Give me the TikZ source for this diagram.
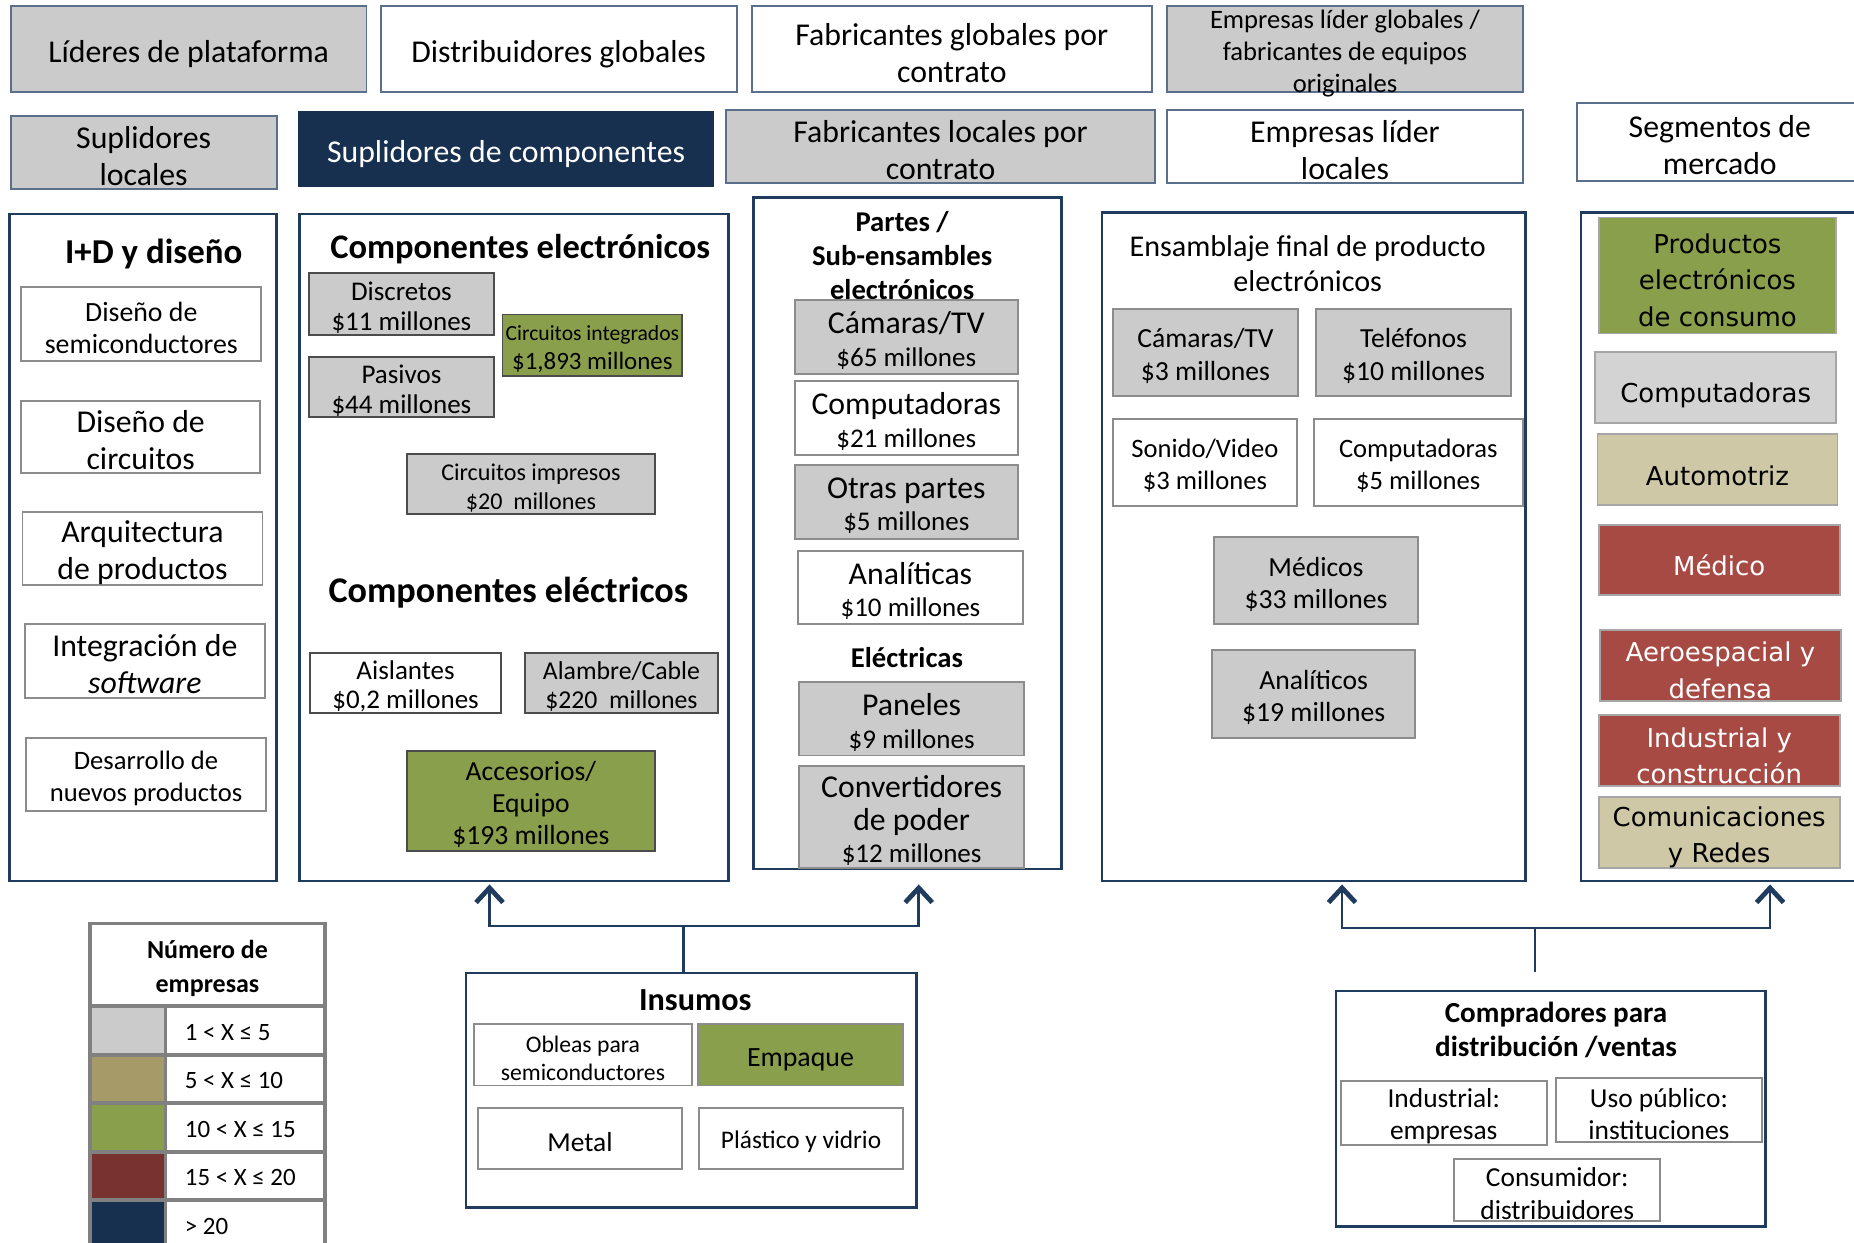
\documentclass[tikz,border=0pt]{standalone}
\usepackage{fontspec}
\setmainfont{Carlito}
\newfontfamily\segfont{DejaVu Sans}
\usetikzlibrary{arrows.meta}

\definecolor{azulosc}{HTML}{17304F}
\definecolor{azulmarco}{HTML}{1F3B5E}
\definecolor{grisc}{HTML}{CBCBCB}
\definecolor{verdec}{HTML}{8A9F4B}
\definecolor{rojoc}{HTML}{A84A44}
\definecolor{arenac}{HTML}{CEC8A6}
\definecolor{marronc}{HTML}{A69A69}
\definecolor{vinoc}{HTML}{78322F}
\definecolor{bordegris}{HTML}{8C8C8C}
\definecolor{bordecab}{HTML}{5A6F8C}

\newcommand{\fsz}[2]{\fontsize{#1}{#2}\selectfont}
% box from its corners (x1,y1) to (x2,y2), text set a little low as in the original
\newcommand{\caja}[7]{%
  \node[#1, minimum width={((#5)-(#3))*0.02cm}, minimum height={((#6)-(#4))*0.02cm}] (#2) at ({((#3)+(#5))/2},{((#4)+(#6))/2}) {};
  \node[textshift=3, #1, draw=none, fill=none, yshift={-\bajada*0.02cm}] (#2t) at (#2.center) {#7};}

\tikzset{
  textshift/.store in=\bajada, textshift=3,
  base/.style={draw=bordegris, line width=0.9pt, fill=white, align=center, inner sep=0pt, outer sep=0pt},
  blanca/.style={base},
  gris/.style={base, fill=grisc},
  verde/.style={base, fill=verdec},
  cab/.style={draw=bordecab},
  oscura/.style={base, draw=azulosc, fill=azulosc, text=white},
  columna/.style={draw=azulmarco, line width=1.3pt, inner sep=0pt, outer sep=0pt},
  seg/.style={base, draw=gray!70, font=\segfont\fsz{12.5}{17.5}, textshift=4},
  leyenda/.style={draw=gray, line width=1.8pt, inner sep=0pt, outer sep=0pt, align=center},
  t15/.style={font=\fsz{15.3}{17.8}},
  t13/.style={font=\fsz{13}{14.4}},
  t12/.style={font=\fsz{12}{14}},
  pt15/.style={font=\fsz{15.3}{15.5}},
  titulo/.style={font=\bfseries\fsz{16.6}{19}, align=center, inner sep=0pt},
  subtitulo/.style={font=\bfseries\fsz{13.8}{16.5}, align=center, inner sep=0pt},
  enlace/.style={draw=azulmarco, line width=1.2pt},
  flecha/.style={enlace, -{Straight Barb[length=7pt, width=13pt, line width=2.3pt]}}
}

\begin{document}
\begin{tikzpicture}[x=0.02cm, y=-0.02cm]
    \useasboundingbox (0,0) rectangle (1568,1051);

    % header row 1
    \caja{gris, cab, t15, textshift=4}{lideres}{9}{5}{310}{78}{Líderes de plataforma}
    \caja{blanca, cab, t15, textshift=4}{distglob}{322}{5}{623}{78}{Distribuidores globales}
    \caja{blanca, cab, t15}{fabglob}{636}{5}{974}{78}{Fabricantes globales por\\contrato}
    \caja{gris, cab, font=\fsz{12.8}{15.5}, textshift=4}{liderglob}{987}{5}{1288}{78}{Empresas líder globales /\\fabricantes de equipos\\originales}

    % header row 2
    \caja{gris, cab, t15}{suplocal}{9}{98}{234}{160}{Suplidores\\locales}
    \caja{oscura, t15, textshift=4}{supcomp}{253}{95}{603}{157}{Suplidores de componentes}
    \caja{gris, cab, t15}{fabloc}{614}{93}{977}{155}{Fabricantes locales por\\contrato}
    \caja{blanca, cab, t15}{liderloc}{987}{93}{1288}{155}{Empresas líder\\locales}
    \caja{blanca, cab, t15}{segmercado}{1334}{87}{1575}{153}{Segmentos de\\mercado}

    % columns
    \caja{columna}{colid}{8}{181}{234}{745}{}
    \caja{columna}{colcomp}{253}{181}{616}{745}{}
    \caja{columna}{colpartes}{637}{167}{898}{735}{}
    \caja{columna}{colens}{932}{180}{1290}{745}{}
    \caja{columna}{colseg}{1337}{180}{1580}{745}{}

    % I+D y diseño
    \node[titulo, font=\bfseries\fsz{16.8}{19}] (tid) at (130,215) {I+D y diseño};
    \caja{blanca, font=\fsz{13.4}{15.4}}{semicond}{18}{243}{221}{305}{Diseño de\\semiconductores}
    \caja{blanca, t15}{circuitos}{18}{339}{220}{400}{Diseño de\\circuitos}
    \caja{blanca, t15}{arquitectura}{19}{433}{222}{495}{Arquitectura\\de productos}
    \caja{blanca, t15}{integracion}{21}{528}{224}{590}{Integración de\\\textit{software}}
    \caja{blanca, font=\fsz{12.8}{15.4}}{desarrollo}{22}{624}{225}{686}{Desarrollo de\\nuevos productos}

    % Componentes
    \node[titulo] (telec) at (440,211) {Componentes electrónicos};
    \caja{gris, draw=black!70, t13}{discretos}{261}{231}{418}{283}{Discretos\\\$11 millones}
    \caja{gris, draw=black!70, t13}{pasivos}{261}{302}{418}{353}{Pasivos\\\$44 millones}
    \caja{verde, draw=black!70, t12}{cintegrados}{425}{266}{577}{318}{{\fsz{10.4}{13}Circuitos integrados}\\\$1,893 millones}
    \caja{gris, draw=black!70, font=\fsz{11.6}{13.8}}{cimpresos}{344}{384}{554}{435}{Circuitos impresos\\\$20~~millones}
    \node[titulo, font=\bfseries\fsz{17.4}{19}] (telect) at (430,501) {Componentes eléctricos};
    \caja{blanca, draw=black!70, t13}{aislantes}{262}{552}{424}{603}{Aislantes\\\$0,2 millones}
    \caja{gris, draw=black!70, font=\fsz{12.4}{14}}{alambre}{444}{552}{607}{603}{Alambre/Cable\\\$220~~millones}
    \caja{verde, draw=black!70, font=\fsz{13.3}{15.4}}{accesorios}{344}{635}{554}{720}{Accesorios/\\Equipo\\\$193 millones}

    % Partes / Sub-ensambles
    \node[subtitulo] (tpartes) at (763,216) {Partes /\\Sub-ensambles\\electrónicos};
    \caja{gris, pt15}{pcamaras}{672}{254}{861}{316}{Cámaras/TV\\{\fsz{13}{15}\$65 millones}}
    \caja{blanca, pt15}{pcomput}{672}{322}{861}{385}{Computadoras\\{\fsz{13}{15}\$21 millones}}
    \caja{gris, pt15}{potras}{672}{393}{861}{456}{Otras partes\\{\fsz{13}{15}\$5 millones}}
    \caja{blanca, pt15}{panaliticas}{675}{466}{865}{528}{Analíticas\\{\fsz{13}{15}\$10 millones}}
    \node[subtitulo] (telectricas) at (767,556) {Eléctricas};
    \caja{gris, pt15}{ppaneles}{676}{577}{866}{639}{Paneles\\{\fsz{13}{15}\$9 millones}}
    \caja{gris, pt15}{pconvert}{676}{648}{866}{734}{Convertidores\\de poder\\{\fsz{13}{15}\$12 millones}}

    % Ensamblaje final
    \node[align=center, inner sep=0pt, font=\fsz{14.5}{16.6}] (tens) at (1106,223) {Ensamblaje final de producto\\electrónicos};
    \caja{gris, font=\fsz{13.3}{15.5}}{ecamaras}{941}{261}{1098}{335}{Cámaras/TV\\\$3 millones}
    \caja{gris, font=\fsz{13.3}{15.5}}{etelef}{1113}{261}{1278}{335}{Teléfonos\\\$10 millones}
    \caja{blanca, font=\fsz{12.8}{15.5}}{esonido}{941}{354}{1097}{428}{Sonido/Video\\\$3 millones}
    \caja{blanca, font=\fsz{12.8}{15.5}}{ecomput}{1111}{354}{1288}{428}{Computadoras\\\$5 millones}
    \caja{gris, font=\fsz{13.3}{15.5}}{emedicos}{1027}{454}{1199}{528}{Médicos\\\$33 millones}
    \caja{gris, font=\fsz{13.3}{15.5}}{eanalit}{1025}{550}{1197}{624}{Analíticos\\\$19 millones}

    % Segmentos de mercado
    \caja{seg, fill=verdec}{sprod}{1352}{184}{1553}{282}{Productos\\electrónicos\\de consumo}
    \caja{seg, fill=grisc!85!white, textshift=6}{scomput}{1349}{298}{1553}{358}{Computadoras}
    \caja{seg, fill=arenac, textshift=5}{sauto}{1351}{367}{1554}{427}{Automotriz}
    \caja{seg, fill=rojoc, text=white, textshift=5}{smedico}{1352}{444}{1556}{503}{Médico}
    \caja{seg, fill=rojoc, text=white}{saero}{1353}{533}{1557}{593}{Aeroespacial y\\defensa}
    \caja{seg, fill=rojoc, text=white}{sindus}{1352}{605}{1556}{665}{Industrial y\\construcción}
    \caja{seg, fill=arenac}{scomunic}{1352}{674}{1556}{734}{Comunicaciones\\y Redes}

    % Legend
    \caja{leyenda, fill=white, font=\bfseries\fsz{12.5}{16}}{leyhead}{76}{781}{275}{851}{Número de\\empresas}
    \foreach \col/\txt [count=\i from 0] in {grisc/{1 < X ≤ 5}, marronc/{5 < X ≤ 10}, verdec/{10 < X ≤ 15}, vinoc/{15 < X ≤ 20}, azulosc/{> 20}} {
        \caja{leyenda, fill=\col}{sw\i}{76}{851+41*\i}{140}{892+41*\i}{}
        \caja{leyenda, fill=white}{cel\i}{140}{851+41*\i}{275}{892+41*\i}{}
        \node[anchor=west, inner sep=0pt, font=\fsz{12}{14}] (ley\i) at (156,{873+41*\i}) {\txt};
    }

    % Insumos
    \caja{columna}{colins}{394}{823}{775}{1021}{}
    \node[titulo, font=\bfseries\fsz{15.5}{18}] (tins) at (588,846) {Insumos};
    \caja{blanca, font=\fsz{11.4}{13.2}}{obleas}{401}{866}{585}{918}{Obleas para\\semiconductores}
    \caja{verde, font=\fsz{13.4}{15}, textshift=4}{empaque}{590}{866}{764}{918}{Empaque}
    \caja{blanca, font=\fsz{13.2}{15}}{metal}{404}{937}{577}{989}{Metal}
    \caja{blanca, font=\fsz{12.2}{15}}{plastico}{591}{937}{764}{989}{Plástico y vidrio}

    % Compradores
    \caja{columna}{colcompr}{1130}{838}{1493}{1037}{}
    \node[subtitulo, font=\bfseries\fsz{14}{16}] (tcompr) at (1316,871) {Compradores para\\distribución /ventas};
    \caja{blanca, font=\fsz{13.2}{15.5}}{indust}{1134}{914}{1308}{968}{Industrial:\\empresas}
    \caja{blanca, font=\fsz{13.2}{15.5}}{usopub}{1316}{912}{1490}{966}{Uso público:\\instituciones}
    \caja{blanca, font=\fsz{13.2}{15.5}}{consum}{1230}{980}{1404}{1033}{Consumidor:\\distribuidores}

    % arrows from Insumos
    \coordinate (juntaI) at (578,783);
    \coordinate (pta1) at (414,748);
    \coordinate (pta2) at (777,748);
    \draw[enlace] (juntaI) -- (juntaI |- colins.north);
    \draw[flecha] (juntaI) -| (pta1);
    \draw[flecha] (juntaI) -| (pta2);

    % arrows from Compradores
    \coordinate (juntaD) at (1298,785);
    \coordinate (baseD) at (1298,822);
    \coordinate (pta3) at (1135,748);
    \coordinate (pta4) at (1497,748);
    \draw[enlace] (juntaD) -- (baseD);
    \draw[flecha] (juntaD) -| (pta3);
    \draw[flecha] (juntaD) -| (pta4);
\end{tikzpicture}
\end{document}
